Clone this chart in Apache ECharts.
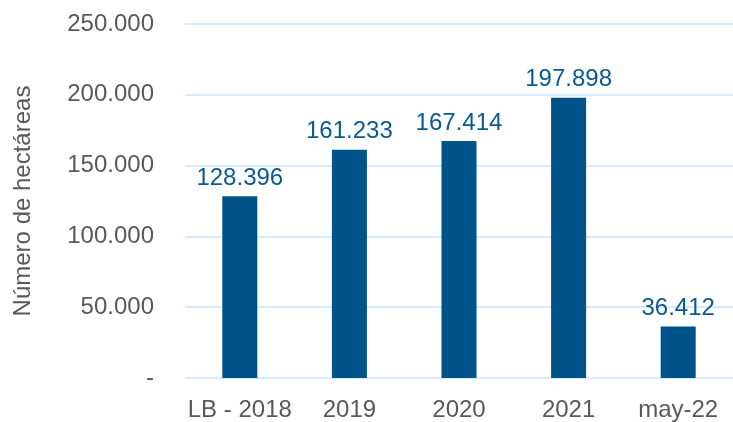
<!DOCTYPE html>
<html>
<head>
<meta charset="utf-8">
<script src="https://cdn.jsdelivr.net/npm/echarts@6/dist/echarts.min.js"></script>
<style>
html,body{margin:0;padding:0;background:#fff;}
#chart{width:733px;height:422px;}
</style>
</head>
<body>
<div id="chart"></div>
<script>
const categories = ["LB - 2018", "2019", "2020", "2021", "may-22"];
const hectareas = [128396, 161233, 167414, 197898, 36412];
const yAxisTitle = "Número de hectáreas";

function fmt(v) {
  if (v === 0) return "-";
  return String(Math.round(v)).replace(/\B(?=(\d{3})+(?!\d))/g, ".");
}

const chart = echarts.init(document.getElementById('chart'), null, {renderer: 'canvas'});
chart.setOption({
  animation: false,
  textStyle: {fontFamily: "Liberation Sans, Arial, Helvetica, sans-serif"},
  grid: {left: 185, top: 24, bottom: 43, width: 556},
  xAxis: {
    type: 'category',
    data: categories,
    axisLine: {show: false},
    axisTick: {show: false},
    axisLabel: {color: '#595959', fontSize: 24, margin: 20, interval: 0}
  },
  yAxis: {
    type: 'value',
    min: 0, max: 250000, interval: 50000,
    name: yAxisTitle,
    nameLocation: 'middle',
    nameGap: 150,
    nameRotate: 90,
    nameTextStyle: {color: '#595959', fontSize: 24},
    axisLine: {show: false},
    axisTick: {show: false},
    splitLine: {lineStyle: {color: '#D6EAF8', width: 2}},
    axisLabel: {color: '#595959', fontSize: 24, margin: 31, formatter: fmt}
  },
  series: [{
    type: 'bar',
    data: hectareas,
    barWidth: 35,
    itemStyle: {color: '#00538A'},
    label: {
      show: true,
      position: 'top',
      distance: 6,
      color: '#0A5A92',
      fontSize: 24,
      formatter: p => fmt(p.value)
    }
  }]
});
</script>
</body>
</html>
